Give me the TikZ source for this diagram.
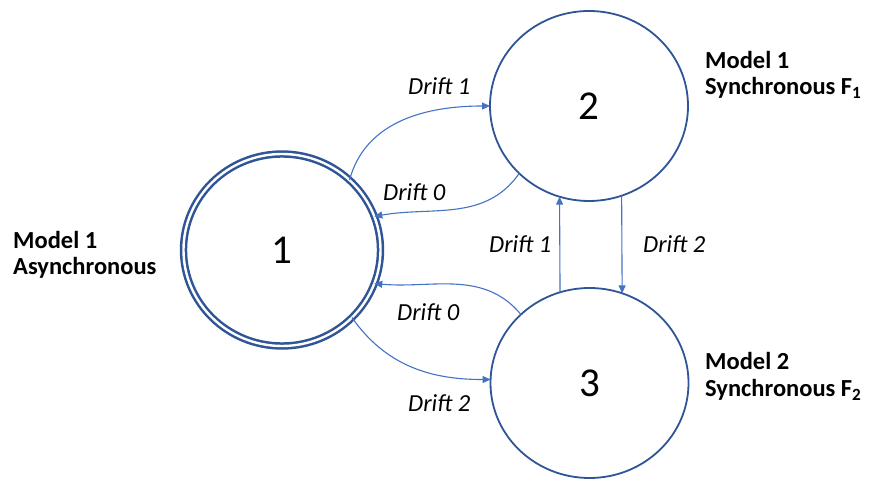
\documentclass[tikz,border=0pt]{standalone}
\usepackage{fontspec}
\setmainfont{Carlito}
\usetikzlibrary{arrows.meta,shapes.geometric}
\definecolor{ringblue}{HTML}{2F5597}
\definecolor{edgeblue}{HTML}{4472C4}
\begin{document}
\begin{tikzpicture}[x=1pt,y=1pt,
  state/.style={ellipse,draw=ringblue,line width=1.8pt,fill=white,inner sep=0pt,outer sep=0pt,
    minimum width=198pt,minimum height=190pt,font=\fontsize{41}{44}\selectfont},
  startstate/.style={state,double=white,line width=2.5pt,double distance=2.4pt,
    minimum width=197pt,minimum height=192pt},
  trans/.style={draw=edgeblue,line width=1.1pt,-{Triangle[length=8pt,width=7pt]}},
  elabel/.style={anchor=base west,inner sep=0pt,font=\fontsize{24.5}{28}\selectfont\itshape},
  mlabel/.style={anchor=base west,inner sep=0pt,font=\fontsize{24.5}{28}\selectfont\bfseries}]
\useasboundingbox (0,0) rectangle (869,481);
\node[startstate] (c1) at (282,231) {1};
\node[state] (c2) at (589,375) {2};
\node[state] (c3) at (589.5,98) {3};
% connectors
\draw[trans] (c1.46) to[out=75,in=180] (c2.180);
\draw[trans] (c2.224) to[out=235,in=10] (c1.20);
\draw[trans] (c3.135) to[out=130,in=-5] (c1.-20);
\draw[trans] (c1.-44) to[out=-55,in=180] (c3.178);
\draw[trans] (c2.-70) -- (c3.70);
\draw[trans] (c3.108) -- (c2.252);
% edge labels
\node[elabel] (l1) at (408,386) {Drift 1};
\node[elabel] (l2) at (383,280) {Drift 0};
\node[elabel] (l3) at (397,160) {Drift 0};
\node[elabel] (l4) at (408,69) {Drift 2};
\node[elabel] (l5) at (489,228) {Drift 1};
\node[elabel] (l6) at (643,228) {Drift 2};
% model labels
\node[mlabel] (m1a) at (705,412) {Model 1};
\node[mlabel] (m1b) at (705,386) {Synchronous F\textsubscript{1}};
\node[mlabel] (m2a) at (705,111) {Model 2};
\node[mlabel] (m2b) at (705,84) {Synchronous F\textsubscript{2}};
\node[mlabel] (m0a) at (13,232) {Model 1};
\node[mlabel] (m0b) at (13,206) {Asynchronous};
\end{tikzpicture}
\end{document}
